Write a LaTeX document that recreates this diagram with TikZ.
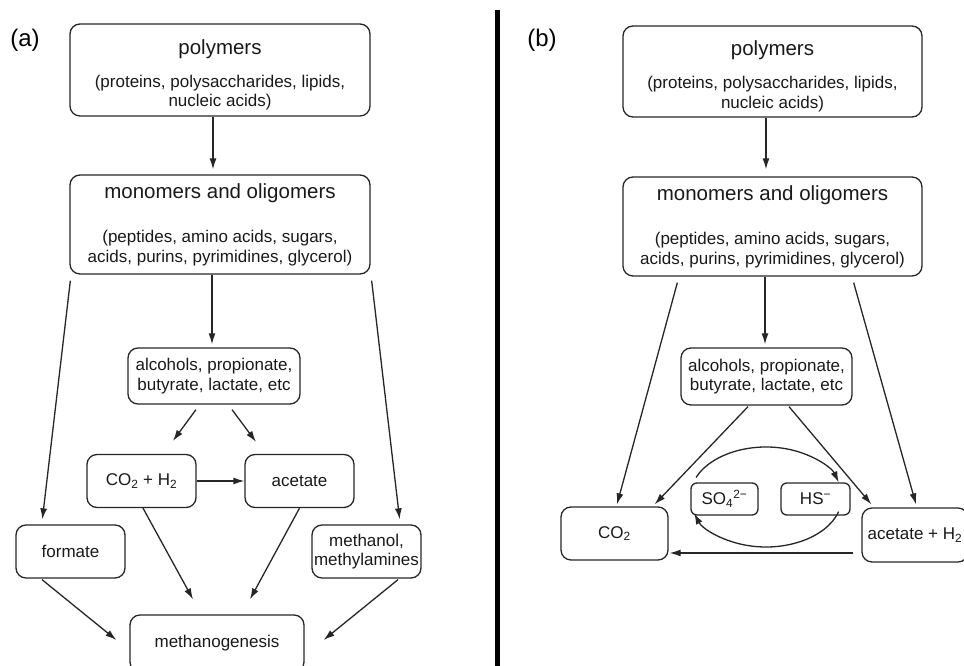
\documentclass[tikz,border=0pt]{standalone}
\usepackage{fontspec}
\setmainfont{Liberation Sans}
\usetikzlibrary{arrows.meta}

\newcommand\bigtxt{\fontsize{20.5}{24}\selectfont}
\newcommand\smalltxt{\fontsize{17}{19.5}\selectfont}
\newcommand\topstrut{\rule{0pt}{25pt}}

\tikzset{
  box/.style={draw=black!85, rounded corners=10pt, line width=1.3pt, align=center, inner sep=1pt, font=\smalltxt, text=black!90},
  ionbox/.style={box, rounded corners=6pt},
  flow/.style={-{Latex[length=11pt,width=7pt]}, line width=1.3pt, draw=black!85}
}

\begin{document}
\begin{tikzpicture}[x=1pt,y=1pt]
  \useasboundingbox (0,0) rectangle (964,666);

  % (a) methanogenic
  \node[font=\fontsize{24}{28}\selectfont] (labA) at (25,626) {(a)};
  \node[box, minimum width=300, minimum height=92] (polyA) at (220,596) {{\bigtxt\topstrut polymers}\\[13.5pt](proteins, polysaccharides, lipids,\\nucleic acids)};
  \node[box, minimum width=300, minimum height=99] (monoA) at (220,441.5) {{\bigtxt monomers and oligomers}\\[25pt](peptides, amino acids, sugars,\\acids, purins, pyrimidines, glycerol)};
  \node[box, minimum width=172, minimum height=56] (alcA) at (214,290) {alcohols, propionate,\\butyrate, lactate, etc};
  \node[box, minimum width=109, minimum height=53] (co2hA) at (141.5,185) {CO\textsubscript{2} + H\textsubscript{2}};
  \node[box, minimum width=109, minimum height=53] (acetA) at (299.5,185) {acetate};
  \node[box, minimum width=109, minimum height=53] (formA) at (70.5,114.5) {formate};
  \node[box, minimum width=109, minimum height=53] (methA) at (366.5,114.5) {methanol,\\methylamines};
  \node[box, minimum width=174, minimum height=57] (mgenA) at (217,22.5) {methanogenesis};

  \draw[flow] ([xshift=-7]polyA.south) -- ([shift={(-7,5)}]monoA.north);
  \draw[flow] ([xshift=-8]monoA.south) -- ([shift={(-2,3)}]alcA.north);
  \draw[flow] ([shift={(1,-6)}]monoA.south west) -- ([shift={(27,5)}]formA.north west);
  \draw[flow] ([shift={(1,-6)}]monoA.south east) -- ([shift={(-22,5)}]methA.north east);
  \draw[flow] ([shift={(-18,-5)}]alcA.south) -- ([shift={(31.5,13)}]co2hA.north);
  \draw[flow] ([shift={(18,-5)}]alcA.south) -- ([shift={(-43.5,12)}]acetA.north);
  \draw[flow] (co2hA.east) -- (acetA.west);
  \draw[flow] ([xshift=1.5]co2hA.south) -- ([shift={(-24,15)}]mgenA.north);
  \draw[flow] (acetA.south) -- ([shift={(33,15)}]mgenA.north);
  \draw[flow] ([shift={(-28.5,-1)}]formA.south) -- ([shift={(-13,3.5)}]mgenA.west);
  \draw[flow] ([shift={(31.5,-1)}]methA.south) -- ([shift={(19,3.5)}]mgenA.east);

  % divider
  \draw[line width=5pt] (497,656) -- (497,-2);

  % (b) sulfate reducing
  \node[font=\fontsize{24}{28}\selectfont] (labB) at (542,626) {(b)};
  \node[box, minimum width=299, minimum height=91] (polyB) at (772.5,594.5) {{\bigtxt\topstrut polymers}\\[13.5pt](proteins, polysaccharides, lipids,\\nucleic acids)};
  \node[box, minimum width=299, minimum height=99] (monoB) at (772.5,439.5) {{\bigtxt monomers and oligomers}\\[25pt](peptides, amino acids, sugars,\\acids, purins, pyrimidines, glycerol)};
  \node[box, minimum width=171, minimum height=57] (alcB) at (766.5,289.5) {alcohols, propionate,\\butyrate, lactate, etc};
  \node[box, minimum width=107, minimum height=53] (co2B) at (614.5,132.5) {CO\textsubscript{2}};
  \node[box, minimum width=106, minimum height=54] (acB) at (915,131) {acetate + H\textsubscript{2}};
  \node[ionbox, minimum width=67, minimum height=32] (so4B) at (724.5,167) {SO\textsubscript{4}\textsuperscript{2−}};
  \node[ionbox, minimum width=69, minimum height=32] (hsB) at (815.5,167) {HS\textsuperscript{−}};
  \coordinate (ring) at (766,169);

  \draw[flow] ([xshift=-6.5]polyB.south) -- ([shift={(-6.5,7)}]monoB.north);
  \draw[flow] ([xshift=-7.5]monoB.south) -- ([shift={(-1.5,3)}]alcB.north);
  \draw[flow] ([shift={(55,-6)}]monoB.south west) -- ([shift={(2.5,2)}]co2B.north);
  \draw[flow] ([shift={(-69,-6)}]monoB.south east) -- ([shift={(1,3)}]acB.north);
  \draw[flow] ([shift={(-18.5,-1)}]alcB.south) -- ([shift={(-14,2)}]co2B.north east);
  \draw[flow] ([shift={(22.5,-1)}]alcB.south) -- ([shift={(10,3)}]acB.north west);
  \draw[flow] ([shift={(-8,-18)}]acB.west) -- ([shift={(1,-19.5)}]co2B.east);
  \draw[flow] ([shift={(157:76 and 50)}]ring) arc[start angle=157, end angle=17, x radius=76, y radius=50];
  \draw[flow] ([shift={(-17:76 and 50)}]ring) arc[start angle=-17, end angle=-161, x radius=76, y radius=50];
\end{tikzpicture}
\end{document}
